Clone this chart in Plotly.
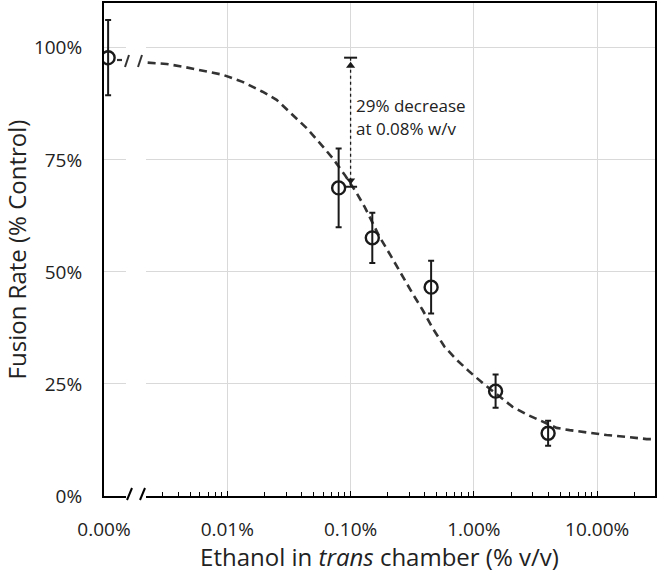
import math
import plotly.graph_objects as go

# ---------------- data ----------------
concentration = [0.00108, 0.08, 0.15, 0.45, 1.5, 4.0]        # % v/v (first = control, 0.00%)
fusion_rate = [0.978, 0.6875, 0.576, 0.466, 0.234, 0.140]     # fraction of control
fusion_err = [0.084, 0.088, 0.056, 0.059, 0.037, 0.028]

fit_x = [0.00226, 0.00322, 0.00434, 0.00631, 0.00916, 0.0133, 0.0193, 0.0251,
         0.0339, 0.0440, 0.0582, 0.0714, 0.0894, 0.112, 0.130, 0.172, 0.215,
         0.259, 0.313, 0.384, 0.462, 0.578, 0.724, 0.923, 1.18, 2.06, 2.73,
         4.69, 5.97, 8.67, 11.9, 17.3, 25.2, 29.2]
fit_y = [0.967, 0.964, 0.958, 0.949, 0.940, 0.924, 0.902, 0.884,
         0.850, 0.821, 0.783, 0.754, 0.717, 0.676, 0.645, 0.578, 0.533,
         0.493, 0.455, 0.415, 0.375, 0.333, 0.304, 0.277, 0.252, 0.199, 0.181,
         0.152, 0.147, 0.141, 0.136, 0.132, 0.127, 0.127]

x_tickvals = [0.001, 0.01, 0.1, 1, 10]
x_ticktext = ["0.00%", "0.01%", "0.10%", "1.00%", "10.00%"]
y_tickvals = [0, 0.25, 0.5, 0.75, 1.0]
y_ticktext = ["0%", "25%", "50%", "75%", "100%"]

annot_x = 0.1
annot_top = 0.978
annot_bottom = 0.69
annot_lines = ["29% decrease", "at 0.08% w/v"]
annot_line_y = [0.872, 0.820]

x_title = "Ethanol in <i>trans</i> chamber (% v/v)"
y_title = "Fusion Rate (% Control)"

# ---------------- layout constants ----------------
W, H = 660, 573
ML, MR, MT, MB = 104, 5, 3, 77
PW, PH = W - ML - MR, H - MT - MB
XR = [-3, 1.469]
YR = [0, 1.1]
FONT = "Open Sans"
TXT = "#222222"
INK = "#1a1a1a"
CURVE = "#333333"


def px_x(p):
    return (p - ML) / PW


def px_y(p):
    return (H - MB - p) / PH


def shift_decades(v, px):
    return v * 10 ** (px / (PW / (XR[1] - XR[0])))


fig = go.Figure()

fig.add_trace(go.Scatter(
    x=fit_x, y=fit_y, mode="lines",
    line=dict(color=CURVE, width=2.6, dash="8px,5px"),
    hoverinfo="skip", showlegend=False))

fig.add_trace(go.Scatter(
    x=concentration, y=fusion_rate, mode="markers",
    marker=dict(symbol="circle-open", size=13, color=INK, line=dict(width=2.4, color=INK)),
    error_y=dict(type="data", array=fusion_err, visible=True, color=INK, thickness=2, width=3),
    showlegend=False))

# arrowheads of the annotation arrow
fig.add_trace(go.Scatter(
    x=[annot_x, annot_x], y=[annot_top - 0.018, annot_bottom + 0.014], mode="markers",
    marker=dict(symbol=["triangle-up", "triangle-down"], size=8, color=INK),
    hoverinfo="skip", showlegend=False))

shapes = []
# mask for the axis break
shapes.append(dict(type="rect", xref="paper", yref="paper",
                   x0=px_x(126), x1=px_x(146), y0=px_y(501), y1=px_y(7),
                   fillcolor="white", line=dict(width=0), layer="above"))
# break slashes on the x axis
for a, b in [(127, 132), (140, 145)]:
    shapes.append(dict(type="line", xref="paper", yref="paper",
                       x0=px_x(a), y0=px_y(500), x1=px_x(b), y1=px_y(488),
                       line=dict(color="black", width=2), layer="above"))
# break on the curve
for a, b in [(125, 129), (138, 142)]:
    shapes.append(dict(type="line", xref="paper", yref="paper",
                       x0=px_x(a), y0=px_y(67), x1=px_x(b), y1=px_y(55),
                       line=dict(color=CURVE, width=2), layer="above"))
shapes.append(dict(type="line", xref="paper", yref="paper",
                   x0=px_x(117), y0=px_y(60), x1=px_x(122), y1=px_y(60),
                   line=dict(color=CURVE, width=2.2), layer="above"))
# annotation arrow (dotted) with caps
shapes.append(dict(type="line", xref="x", yref="y",
                   x0=annot_x, x1=annot_x, y0=annot_bottom, y1=annot_top,
                   line=dict(color=INK, width=1.3, dash="dot")))
for yv in (annot_top, annot_bottom):
    shapes.append(dict(type="line", xref="x", yref="y",
                       x0=shift_decades(annot_x, -6.5), x1=shift_decades(annot_x, 6.5),
                       y0=yv, y1=yv, line=dict(color=INK, width=2)))

annotations = [dict(
    x=math.log10(annot_x), y=yv, xref="x", yref="y",
    text=t, showarrow=False, xanchor="left", yanchor="middle",
    align="left", xshift=3, font=dict(family=FONT, size=17, color=TXT))
    for t, yv in zip(annot_lines, annot_line_y)]

fig.update_layout(
    width=W, height=H,
    margin=dict(l=ML, r=MR, t=MT, b=MB, autoexpand=False),
    paper_bgcolor="white", plot_bgcolor="white",
    font=dict(family=FONT, color=TXT),
    shapes=shapes,
    showlegend=False,
    annotations=annotations,
)

fig.update_xaxes(
    type="log", range=XR, automargin=False,
    tickmode="array", tickvals=x_tickvals, ticktext=x_ticktext,
    tickfont=dict(size=19, color=TXT),
    showgrid=True, gridcolor="#d9d9d9", gridwidth=1.3,
    showline=True, linecolor="black", linewidth=2, mirror=True,
    ticks="inside", ticklen=5, tickcolor="black", tickwidth=1,
    minor=dict(dtick="D1", ticks="inside", ticklen=4, tickcolor="black", tickwidth=1, showgrid=False),
    zeroline=False, ticklabelstandoff=15,
    title=dict(text=x_title, font=dict(size=24, color=TXT), standoff=8),
)
fig.update_yaxes(
    range=YR, automargin=False,
    tickmode="array", tickvals=y_tickvals, ticktext=y_ticktext,
    tickfont=dict(size=19, color=TXT),
    showgrid=True, gridcolor="#d9d9d9", gridwidth=1.3,
    showline=True, linecolor="black", linewidth=2, mirror=True,
    ticks="", zeroline=False, ticklabelstandoff=16,
    title=dict(text=y_title, font=dict(size=24, color=TXT), standoff=22),
)

fig.write_html("out.html",
               config={"displayModeBar": False},
               post_script="document.body.style.margin='0';document.body.style.padding='0';")
